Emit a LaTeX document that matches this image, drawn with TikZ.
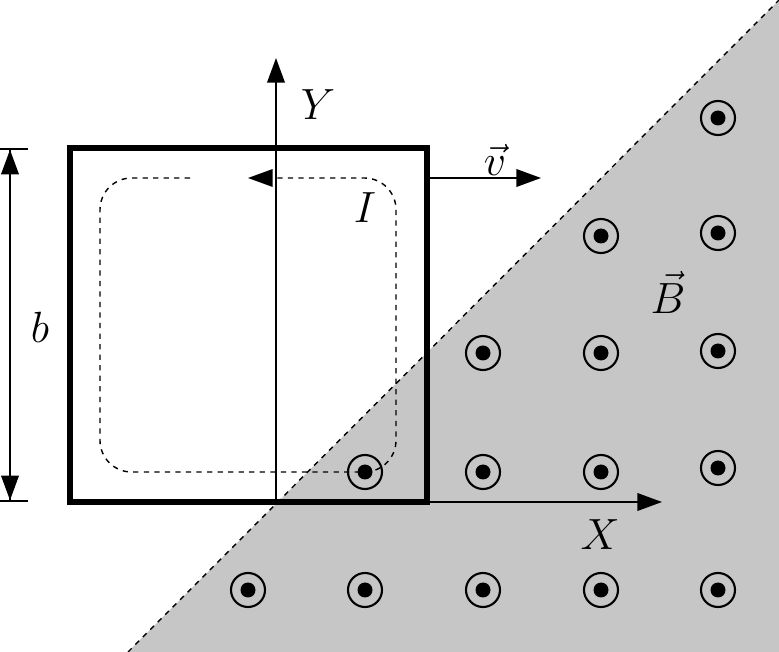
\documentclass[tikz,border=0pt]{standalone}
\usepackage{amsmath}
\usetikzlibrary{arrows.meta}
\tikzset{
  fielddot/.style={draw=black, line width=1.2pt},
  axisarrow/.style={line width=1pt, -{Triangle[length=14pt,width=10pt]}},
  biglabel/.style={font=\fontsize{26}{30}\selectfont}
}
\newcommand{\fieldpt}[2]{%
  \draw[fielddot] (#1,#2) circle (17);
  \fill (#1,#2) circle (7.5);}
\begin{document}
\begin{tikzpicture}[x=0.02cm, y=-0.02cm]
    \useasboundingbox (0,0) rectangle (779,652);
    % field region
    \fill[gray!45] (128,652) -- (779,0) -- (779,652) -- cycle;
    \draw[dashed, line width=0.8pt] (128,652) -- (779,0);
    % field points
    \foreach \x/\y in {718/118, 601/236, 718/233, 483/353, 601/353, 718/351,
                       365/472, 483/472, 601/472, 718/468,
                       248/590, 365/590, 483/590, 601/590, 718/590}
        {\fieldpt{\x}{\y}}
    % frame
    \draw[line width=3pt] (70,148) rectangle (427,502);
    % axes
    \coordinate (O) at (276,502);
    \coordinate (Ytip) at (276,58);
    \coordinate (Xstart) at (427,502);
    \coordinate (Xtip) at (662,502);
    \draw[axisarrow] (O) -- (Ytip);
    \draw[axisarrow] (Xstart) -- (Xtip);
    \node[biglabel, font=\fontsize{26}{30}\selectfont\itshape] (Y) at (318,105) {$Y$};
    \node[biglabel] (X) at (600,535) {$X$};
    % velocity
    \coordinate (vstart) at (427,178);
    \coordinate (vtip) at (541,178);
    \draw[axisarrow] (vstart) -- (vtip);
    \node[biglabel] (v) at (495,160) {$\vec{v}$};
    % current loop
    \draw[dashed, line width=0.8pt, rounded corners=18, -{Triangle[length=14pt,width=10pt]}]
        (190,178) -- (100,178) -- (100,472) -- (396,472) -- (396,178) -- (248,178);
    \node[biglabel] (I) at (365,208) {$I$};
    % field label
    \node[biglabel] (B) at (668,292) {$\vec{B}$};
    % dimension b
    \coordinate (btop) at (10,148);
    \coordinate (bbot) at (10,502);
    \draw[line width=1pt, {Bar[width=20pt]Triangle[length=14pt,width=10pt]}-{Triangle[length=14pt,width=10pt]Bar[width=20pt]}] (btop) -- (bbot);
    \node[biglabel] (b) at (40,327) {$b$};
\end{tikzpicture}
\end{document}
